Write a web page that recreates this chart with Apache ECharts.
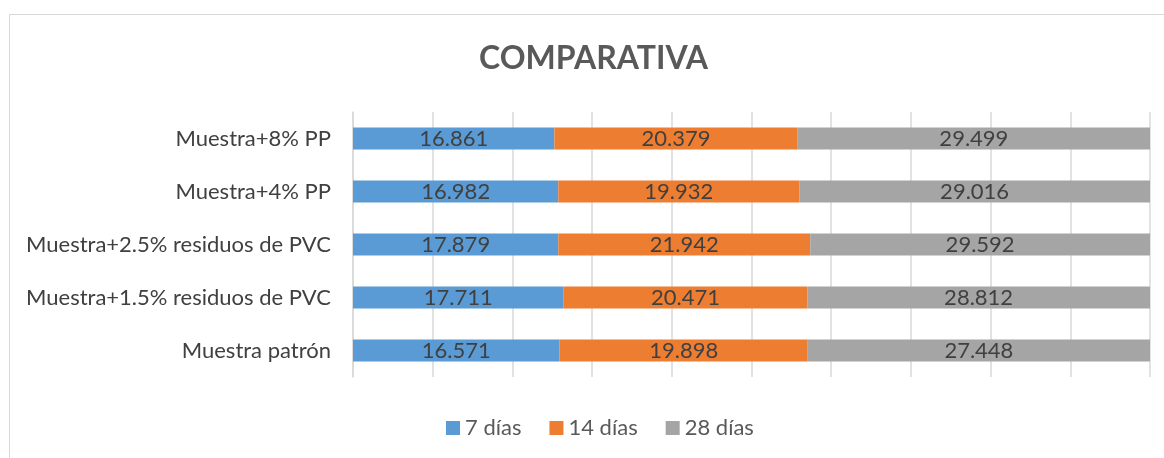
<!DOCTYPE html>
<html>
<head>
<meta charset="utf-8">
<script src="https://cdn.jsdelivr.net/npm/echarts@6/dist/echarts.min.js"></script>
<style>
  html, body { margin: 0; padding: 0; background: #fff; }
  #chart { width: 1164px; height: 458px; }
</style>
</head>
<body>
<div id="chart"></div>
<script>
// categorías (de abajo hacia arriba)
var categories = ['Muestra patrón', 'Muestra+1.5% residuos de PVC', 'Muestra+2.5% residuos de PVC', 'Muestra+4% PP', 'Muestra+8% PP']
var dias7 = [16.571, 17.711, 17.879, 16.982, 16.861]
var dias14 = [19.898, 20.471, 21.942, 19.932, 20.379]
var dias28 = [27.448, 28.812, 29.592, 29.016, 29.499]
var seriesNames = ['7 días', '14 días', '28 días']
var colors = ['#5B9BD5', '#ED7D31', '#A5A5A5']

var font = 'Lato, "Open Sans", sans-serif'
var raw = [dias7, dias14, dias28]
var totals = categories.map(function (c, i) { return dias7[i] + dias14[i] + dias28[i] })

var myChart = echarts.init(document.getElementById('chart'))
myChart.setOption({
  animation: false,
  title: {
    text: 'COMPARATIVA',
    left: 474,
    top: 38,
    textStyle: { fontFamily: font, fontSize: 32, fontWeight: 'bold', color: '#595959' }
  },
  graphic: [{
    type: 'rect',
    shape: { x: 9.5, y: 14.5, width: 1200, height: 500 },
    style: { fill: 'none', stroke: '#D9D9D9', lineWidth: 1 },
    z: -1
  }],
  legend: {
    bottom: 14,
    left: 441,
    itemWidth: 14,
    itemHeight: 14,
    itemGap: 28,
    icon: 'rect',
    textStyle: { fontFamily: font, fontSize: 22, color: '#595959' },
    data: seriesNames
  },
  grid: { left: 353, right: 14, top: 112, bottom: 81, containLabel: false },
  xAxis: {
    type: 'value',
    min: 0,
    max: 100,
    interval: 10,
    axisLabel: { show: false },
    axisLine: { show: false },
    axisTick: { show: false },
    splitLine: { lineStyle: { color: '#D9D9D9', width: 1.5 } }
  },
  yAxis: {
    type: 'category',
    data: categories,
    axisLine: { show: true, lineStyle: { color: '#D9D9D9', width: 1.5 } },
    axisTick: { show: false },
    axisLabel: { fontFamily: font, fontSize: 22, color: '#404040', margin: 22 }
  },
  series: raw.map(function (arr, k) {
    return {
      name: seriesNames[k],
      type: 'bar',
      stack: 'total',
      barWidth: 22,
      itemStyle: { color: colors[k] },
      label: {
        show: true,
        position: 'inside',
        fontFamily: font,
        fontSize: 22,
        color: '#404040',
        formatter: function (p) { return arr[p.dataIndex].toFixed(3) }
      },
      data: arr.map(function (v, i) { return v / totals[i] * 100 })
    }
  })
})
</script>
</body>
</html>
